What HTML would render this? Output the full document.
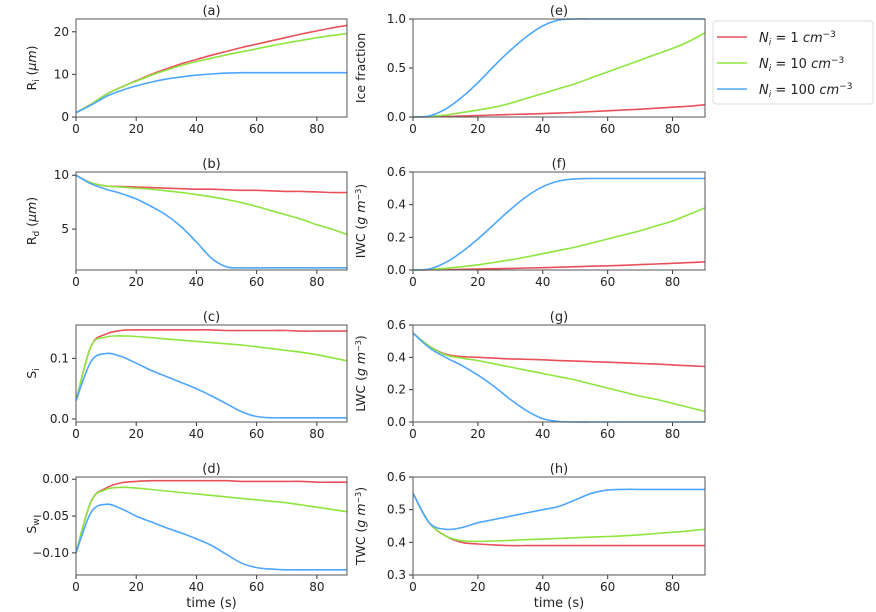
<!DOCTYPE html>
<html><head><meta charset="utf-8"><style>
body{margin:0;background:#fff;}
svg{display:block;font-family:"DejaVu Sans","Liberation Sans",sans-serif;}
</style></head><body>
<svg id="c" width="876" height="612"></svg>
<script>
const times=[0,5,10,15,20,25,30,35,40,45,50,55,60,65,70,75,80,85,90];
const aRed=[1,3,5.3,7,8.5,10,11.3,12.5,13.5,14.5,15.4,16.3,17.1,17.9,18.7,19.5,20.2,20.9,21.5];
const aGreen=[1,3,5.3,7,8.4,9.8,11,12.1,13,13.8,14.6,15.3,16,16.7,17.4,18,18.6,19.1,19.6];
const aBlue=[1,2.8,4.8,6.2,7.3,8.2,8.9,9.4,9.8,10.1,10.3,10.4,10.4,10.4,10.4,10.4,10.4,10.4,10.4];
const bRed=[10,9.3,9.0,8.95,8.9,8.85,8.8,8.75,8.7,8.7,8.65,8.6,8.6,8.55,8.5,8.5,8.45,8.4,8.4];
const bGreen=[10,9.3,9.0,8.9,8.8,8.7,8.55,8.4,8.2,8.0,7.75,7.45,7.1,6.7,6.3,5.9,5.4,5.0,4.5];
const bBlue=[10,9.2,8.7,8.3,7.8,7.1,6.3,5.2,3.8,2.3,1.5,1.4,1.4,1.4,1.4,1.4,1.4,1.4,1.4];
const cRed=[0.03,0.12,0.14,0.146,0.147,0.147,0.147,0.147,0.147,0.147,0.146,0.146,0.146,0.146,0.146,0.145,0.145,0.145,0.145];
const cGreen=[0.03,0.12,0.135,0.137,0.136,0.134,0.132,0.13,0.128,0.126,0.124,0.122,0.119,0.116,0.113,0.11,0.106,0.101,0.096];
const cBlue=[0.03,0.095,0.108,0.103,0.092,0.08,0.07,0.06,0.05,0.038,0.025,0.012,0.004,0.002,0.002,0.002,0.002,0.002,0.002];
const dRed=[-0.1,-0.03,-0.012,-0.005,-0.003,-0.002,-0.002,-0.002,-0.002,-0.002,-0.002,-0.003,-0.003,-0.003,-0.003,-0.003,-0.004,-0.004,-0.004];
const dGreen=[-0.1,-0.03,-0.014,-0.011,-0.012,-0.014,-0.016,-0.018,-0.02,-0.022,-0.024,-0.026,-0.028,-0.03,-0.032,-0.035,-0.038,-0.041,-0.044];
const dBlue=[-0.1,-0.045,-0.034,-0.04,-0.05,-0.058,-0.066,-0.073,-0.081,-0.09,-0.102,-0.114,-0.12,-0.122,-0.123,-0.123,-0.123,-0.123,-0.123];
const eRed=[0,0.002,0.005,0.01,0.015,0.02,0.025,0.03,0.035,0.04,0.047,0.055,0.063,0.072,0.08,0.09,0.1,0.11,0.125];
const eGreen=[0,0.005,0.02,0.045,0.07,0.1,0.14,0.19,0.24,0.29,0.34,0.4,0.46,0.52,0.58,0.64,0.7,0.77,0.86];
const eBlue=[0,0.01,0.08,0.2,0.35,0.52,0.68,0.82,0.93,0.99,1,1,1,1,1,1,1,1,1];
const fRed=[0,0.001,0.002,0.004,0.006,0.008,0.01,0.012,0.014,0.017,0.02,0.023,0.026,0.029,0.033,0.037,0.041,0.045,0.05];
const fGreen=[0,0.003,0.01,0.02,0.032,0.046,0.062,0.08,0.1,0.12,0.14,0.165,0.19,0.215,0.24,0.27,0.3,0.34,0.38];
const fBlue=[0,0.006,0.045,0.11,0.19,0.28,0.37,0.45,0.51,0.545,0.558,0.56,0.56,0.56,0.56,0.56,0.56,0.56,0.56];
const gRed=[0.55,0.47,0.42,0.405,0.4,0.395,0.39,0.388,0.385,0.38,0.377,0.373,0.37,0.366,0.362,0.358,0.353,0.348,0.343];
const gGreen=[0.55,0.47,0.415,0.395,0.38,0.36,0.34,0.32,0.3,0.28,0.26,0.235,0.21,0.185,0.16,0.14,0.115,0.09,0.065];
const gBlue=[0.55,0.46,0.4,0.35,0.29,0.22,0.14,0.07,0.02,0.003,0,0,0,0,0,0,0,0,0];
const hRed=[0.55,0.46,0.42,0.4,0.395,0.392,0.39,0.39,0.39,0.39,0.39,0.39,0.39,0.39,0.39,0.39,0.39,0.39,0.39];
const hGreen=[0.55,0.46,0.42,0.405,0.403,0.404,0.406,0.408,0.41,0.412,0.414,0.416,0.418,0.42,0.423,0.427,0.431,0.435,0.44];
const hBlue=[0.55,0.46,0.44,0.445,0.46,0.47,0.48,0.49,0.5,0.51,0.53,0.55,0.56,0.562,0.562,0.562,0.562,0.562,0.562];
const xTicks=[0,20,40,60,80];
const colors=["#e8505b","#8ee53f","#4da6ff"];
const legendLabels=["1","10","100"];
const NS="http://www.w3.org/2000/svg";
const svg=document.getElementById('c');
function mk(tag,attrs,parent){const e=document.createElementNS(NS,tag);for(const k in attrs)e.setAttribute(k,attrs[k]);(parent||svg).appendChild(e);return e;}
function smooth(pts){let d='M'+pts[0][0].toFixed(1)+','+pts[0][1].toFixed(1);
 for(let i=0;i<pts.length-1;i++){const p0=pts[Math.max(0,i-1)],p1=pts[i],p2=pts[i+1],p3=pts[Math.min(pts.length-1,i+2)];
  const c1=[p1[0]+(p2[0]-p0[0])/6,p1[1]+(p2[1]-p0[1])/6],c2=[p2[0]-(p3[0]-p1[0])/6,p2[1]-(p3[1]-p1[1])/6];
  d+='C'+c1.map(v=>v.toFixed(1)).join(',')+' '+c2.map(v=>v.toFixed(1)).join(',')+' '+p2.map(v=>v.toFixed(1)).join(',');}
 return d;}
const rowsY=[[19,117],[172,270],[325,422],[477,575]];
const colsX=[[76,347],[413,705]];
const panels=[
 {id:"a",col:0,row:0,ymin:0,ymax:23,ticks:[0,10,20],fmt:v=>v,ylab:'R<tspan font-size="9" dy="3">i</tspan><tspan dy="-3"> (</tspan><tspan font-style="italic">μm</tspan>)',s:[aRed,aGreen,aBlue]},
 {id:"b",col:0,row:1,ymin:1.2,ymax:10.3,ticks:[5,10],fmt:v=>v,ylab:'R<tspan font-size="9" dy="3">d</tspan><tspan dy="-3"> (</tspan><tspan font-style="italic">μm</tspan>)',s:[bRed,bGreen,bBlue]},
 {id:"c",col:0,row:2,ymin:-0.005,ymax:0.155,ticks:[0,0.1],fmt:v=>v.toFixed(1),ylab:'S<tspan font-size="9" dy="3">i</tspan>',s:[cRed,cGreen,cBlue]},
 {id:"d",col:0,row:3,ymin:-0.13,ymax:0.003,ticks:[-0.1,-0.05,0],fmt:v=>(v<0?"−":"")+Math.abs(v).toFixed(2),ylab:'S<tspan font-size="9" dy="3">w</tspan>',s:[dRed,dGreen,dBlue]},
 {id:"e",col:1,row:0,ymin:0,ymax:1,ticks:[0,0.5,1],fmt:v=>v.toFixed(1),ylab:'Ice fraction',s:[eRed,eGreen,eBlue]},
 {id:"f",col:1,row:1,ymin:0,ymax:0.6,ticks:[0,0.2,0.4,0.6],fmt:v=>v.toFixed(1),ylab:'IWC (<tspan font-style="italic">g m</tspan><tspan font-size="8" dy="-4">−3</tspan><tspan dy="4">)</tspan>',s:[fRed,fGreen,fBlue]},
 {id:"g",col:1,row:2,ymin:0,ymax:0.6,ticks:[0,0.2,0.4,0.6],fmt:v=>v.toFixed(1),ylab:'LWC (<tspan font-style="italic">g m</tspan><tspan font-size="8" dy="-4">−3</tspan><tspan dy="4">)</tspan>',s:[gRed,gGreen,gBlue]},
 {id:"h",col:1,row:3,ymin:0.3,ymax:0.6,ticks:[0.3,0.4,0.5,0.6],fmt:v=>v.toFixed(1),ylab:'TWC (<tspan font-style="italic">g m</tspan><tspan font-size="8" dy="-4">−3</tspan><tspan dy="4">)</tspan>',s:[hRed,hGreen,hBlue]}
];
panels.forEach(p=>{
 const [x0,x1]=colsX[p.col],[y0,y1]=rowsY[p.row];
 const g=mk('g',{});
 
 
 const xs=t=>x0+(t/90)*(x1-x0), ys=v=>y1-(v-p.ymin)/(p.ymax-p.ymin)*(y1-y0);
 const t=mk('text',{x:(x0+x1)/2,y:y0-4,'text-anchor':'middle','font-size':13,fill:'#222'},g);t.textContent='('+p.id+')';
 
 xTicks.forEach(v=>{const x=xs(v);mk('line',{x1:x,x2:x,y1:y1,y2:y1+4,stroke:'#333'},g);const l=mk('text',{x:x,y:y1+16,'text-anchor':'middle','font-size':12,fill:'#222'},g);l.textContent=v;});
 p.ticks.forEach(v=>{const y=ys(v);mk('line',{x1:x0-4,x2:x0,y1:y,y2:y,stroke:'#333'},g);const l=mk('text',{x:x0-7,y:y+4,'text-anchor':'end','font-size':12,fill:'#222'},g);l.textContent=p.fmt(v);});
 const cp='cp'+p.id;const cl=mk('clipPath',{id:cp},g);mk('rect',{x:x0,y:y0-1,width:x1-x0,height:y1-y0+2},cl);
 p.s.forEach((arr,i)=>{const pts=arr.map((v,k)=>[xs(times[k]),ys(v)]);
  const path=mk('path',{d:smooth(pts),fill:'none',stroke:colors[i],'stroke-width':1.6,'clip-path':'url(#'+cp+')'},g);
  
  });
 mk('rect',{x:x0,y:y0,width:x1-x0,height:y1-y0,fill:'none',stroke:'#555','stroke-width':1},g);
 const yl=mk('text',{transform:`translate(${x0-(p.col?48:40)},${(y0+y1)/2}) rotate(-90)`,'text-anchor':'middle','font-size':12.5,fill:'#222'},g);
 yl.innerHTML=p.ylab;
 
 if(p.row===3){const xl=mk('text',{x:(x0+x1)/2,y:y1+32,'text-anchor':'middle','font-size':13,fill:'#222'},g);xl.textContent='time (s)';
  }
});
const lg=mk('g',{});


mk('rect',{x:713,y:21,width:160,height:83,rx:3,fill:'#fff',stroke:'#ddd'},lg);
legendLabels.forEach((lab,i)=>{const y=37+i*26;
 mk('line',{x1:717,x2:747,y1:y,y2:y,stroke:colors[i],'stroke-width':1.6},lg);
 const t=mk('text',{x:759,y:y+5,'font-size':13,fill:'#222'},lg);
 t.innerHTML='<tspan font-style="italic">N</tspan><tspan font-size="9" dy="3" font-style="italic">i</tspan><tspan dy="-3"> = '+lab+' </tspan><tspan font-style="italic">cm</tspan><tspan font-size="9" dy="-5">−3</tspan>';
 
 
});
</script>
</body></html>
